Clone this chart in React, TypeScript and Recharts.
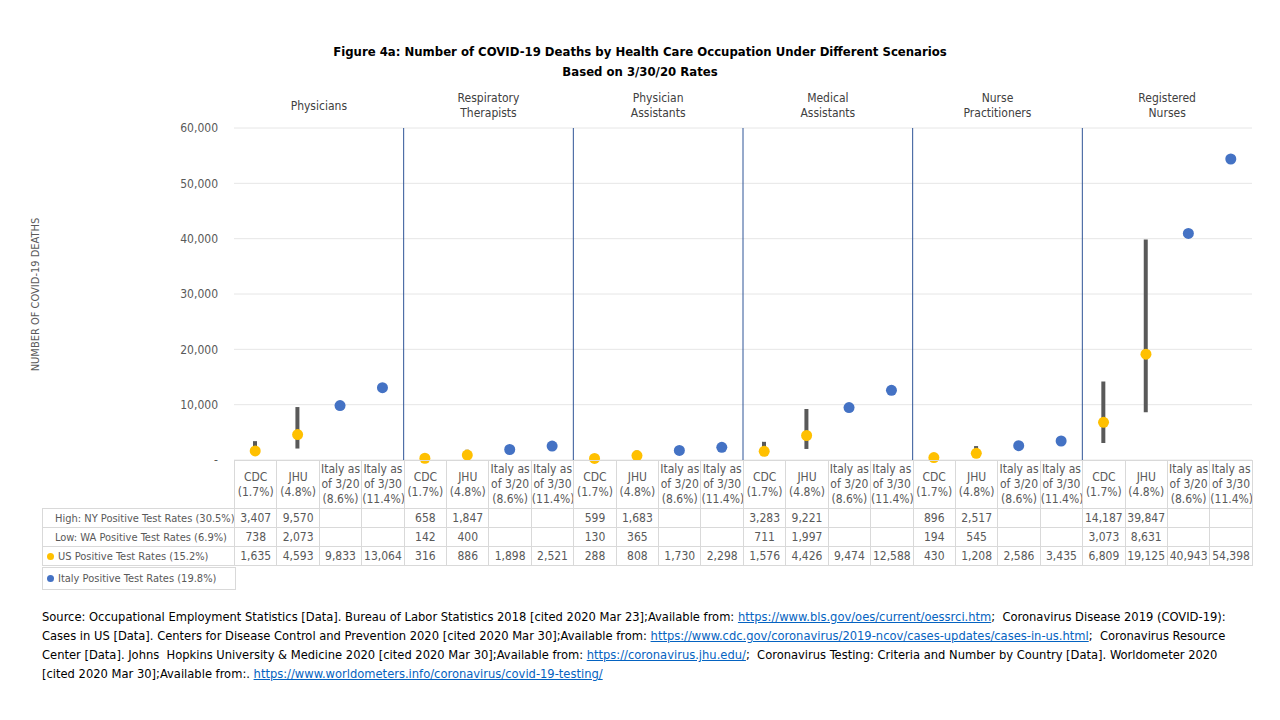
import {
  ComposedChart,
  Bar,
  Line,
  XAxis,
  YAxis,
  CartesianGrid,
  ReferenceLine,
} from "recharts";

// occupations (6 groups of 4 scenarios)
const occupations = [
  ["Physicians"],
  ["Respiratory", "Therapists"],
  ["Physician", "Assistants"],
  ["Medical", "Assistants"],
  ["Nurse", "Practitioners"],
  ["Registered", "Nurses"],
];

const scenarios = [
  ["CDC", "(1.7%)"],
  ["JHU", "(4.8%)"],
  ["Italy as", "of 3/20", "(8.6%)"],
  ["Italy as", "of 3/30", "(11.4%)"],
];
const italyScenario = [false, false, true, true];

// high: NY positive test rates (30.5%)
const highNY = [
  3407, 9570, null, null,
  658, 1847, null, null,
  599, 1683, null, null,
  3283, 9221, null, null,
  896, 2517, null, null,
  14187, 39847, null, null,
];

// low: WA positive test rates (6.9%)
const lowWA = [
  738, 2073, null, null,
  142, 400, null, null,
  130, 365, null, null,
  711, 1997, null, null,
  194, 545, null, null,
  3073, 8631, null, null,
];

// US positive test rates (15.2%) / Italy columns
const deaths = [
  1635, 4593, 9833, 13064,
  316, 886, 1898, 2521,
  288, 808, 1730, 2298,
  1576, 4426, 9474, 12588,
  430, 1208, 2586, 3435,
  6809, 19125, 40943, 54398,
];

const yTicks = [0, 10000, 20000, 30000, 40000, 50000, 60000];

const YELLOW = "#FFC000";
const BLUE = "#4472C4";
const GRAY = "#595959";
const LINE = "#d9d9d9";
const FONT = '"DejaVu Sans Condensed", "Liberation Sans", sans-serif';

const PLOT_LEFT = 234;
const PLOT_RIGHT = 1252;
const COL_W = (PLOT_RIGHT - PLOT_LEFT) / 24;

const data = deaths.map((v, i) => {
  const italy = italyScenario[i % 4];
  return {
    name: `c${i}`,
    us: italy ? null : v,
    italy: italy ? v : null,
    range: highNY[i] != null ? [lowWA[i], highNY[i]] : null,
  };
});

const fmt = (v: number | null) => (v == null ? "" : v.toLocaleString("en-US"));

const cell: React.CSSProperties = {
  border: `1px solid ${LINE}`,
  textAlign: "center",
  padding: 0,
  color: GRAY,
  fontSize: 12,
  whiteSpace: "nowrap",
  overflow: "hidden",
};

const rowLabel: React.CSSProperties = {
  ...cell,
  textAlign: "left",
  paddingLeft: 12,
  fontSize: 11,
};

const link = { color: "#0563C1", textDecoration: "underline" };

export default function App() {
  return (
    <div
      style={{
        position: "absolute",
        left: 0,
        top: 0,
        width: 1280,
        height: 720,
        background: "#fff",
        fontFamily: FONT,
        overflow: "hidden",
      }}
    >
      <div
        style={{
          position: "absolute",
          left: 0,
          width: 1280,
          top: 42,
          textAlign: "center",
          fontWeight: "bold",
          fontSize: 13,
          lineHeight: "20px",
          color: "#000",
        }}
      >
        Figure 4a: Number of COVID-19 Deaths by Health Care Occupation Under Different Scenarios
        <br />
        Based on 3/30/20 Rates
      </div>

      {occupations.map((lines, g) => (
        <div
          key={g}
          style={{
            position: "absolute",
            left: PLOT_LEFT + g * 4 * COL_W,
            width: 4 * COL_W,
            top: 106 - (lines.length * 15) / 2,
            textAlign: "center",
            fontSize: 12,
            lineHeight: "15px",
            color: "#404040",
          }}
        >
          {lines.map((l) => (
            <div key={l}>{l}</div>
          ))}
        </div>
      ))}

      <div
        style={{
          position: "absolute",
          left: 35 - 100,
          top: 288,
          width: 200,
          textAlign: "center",
          transform: "rotate(-90deg)",
          fontSize: 11,
          color: GRAY,
        }}
      >
        NUMBER OF COVID-19 DEATHS
      </div>

      <div style={{ position: "absolute", left: 0, top: 0 }}>
        <ComposedChart
          width={1280}
          height={470}
          data={data}
          margin={{ top: 128, right: 1280 - PLOT_RIGHT, bottom: 10, left: PLOT_LEFT - 60 }}
        >
          <CartesianGrid horizontal vertical={false} stroke="#e6e6e6" />
          <XAxis dataKey="name" hide />
          <YAxis
            width={60}
            domain={[0, 60000]}
            ticks={yTicks}
            axisLine={false}
            tickLine={false}
            tickSize={0}
            tickMargin={16}
            tick={{ fill: GRAY, fontSize: 12, fontFamily: FONT }}
            tickFormatter={(v: number) => (v === 0 ? "-" : v.toLocaleString("en-US"))}
          />
          {[4, 8, 12, 16, 20].map((i) => (
            <ReferenceLine
              key={i}
              x={`c${i}`}
              position="start"
              stroke="#2F5597"
              strokeWidth={1}
            />
          ))}
          <Bar dataKey="range" barSize={4} fill={GRAY} isAnimationActive={false} />
          <Line
            dataKey="us"
            stroke="none"
            dot={{ r: 5.5, fill: YELLOW, stroke: YELLOW, strokeWidth: 0 }}
            activeDot={false}
            isAnimationActive={false}
          />
          <Line
            dataKey="italy"
            stroke="none"
            dot={{ r: 5.5, fill: BLUE, stroke: BLUE, strokeWidth: 0 }}
            activeDot={false}
            isAnimationActive={false}
          />
        </ComposedChart>
      </div>

      <table
        style={{
          position: "absolute",
          left: 42,
          top: 460,
          borderCollapse: "collapse",
          tableLayout: "fixed",
          width: PLOT_RIGHT - 42,
          fontFamily: FONT,
        }}
      >
        <colgroup>
          <col style={{ width: PLOT_LEFT - 42 }} />
          {deaths.map((_, i) => (
            <col key={i} style={{ width: COL_W }} />
          ))}
        </colgroup>
        <tbody>
          <tr style={{ height: 48 }}>
            <td style={{ padding: 0, border: "none" }} />
            {deaths.map((_, i) => (
              <td key={i} style={{ ...cell, lineHeight: "15px" }}>
                {scenarios[i % 4].map((l) => (
                  <div key={l}>{l}</div>
                ))}
              </td>
            ))}
          </tr>
          <tr style={{ height: 19 }}>
            <td style={rowLabel}>High: NY Positive Test Rates (30.5%)</td>
            {highNY.map((v, i) => (
              <td key={i} style={cell}>{fmt(v)}</td>
            ))}
          </tr>
          <tr style={{ height: 19 }}>
            <td style={rowLabel}>Low: WA Positive Test Rates (6.9%)</td>
            {lowWA.map((v, i) => (
              <td key={i} style={cell}>{fmt(v)}</td>
            ))}
          </tr>
          <tr style={{ height: 19 }}>
            <td style={{ ...rowLabel, paddingLeft: 4 }}>
              <span
                style={{
                  display: "inline-block",
                  width: 7,
                  height: 7,
                  borderRadius: "50%",
                  background: YELLOW,
                  marginRight: 4,
                }}
              />
              US Positive Test Rates (15.2%)
            </td>
            {deaths.map((v, i) => (
              <td key={i} style={cell}>{fmt(v)}</td>
            ))}
          </tr>
        </tbody>
      </table>

      <div
        style={{
          position: "absolute",
          left: 42,
          top: 567,
          width: 194,
          height: 23,
          border: `1px solid ${LINE}`,
          fontSize: 11,
          lineHeight: "22px",
          color: GRAY,
          paddingLeft: 4,
          boxSizing: "border-box",
          whiteSpace: "nowrap",
        }}
      >
        <span
          style={{
            display: "inline-block",
            width: 7,
            height: 7,
            borderRadius: "50%",
            background: BLUE,
            marginRight: 4,
          }}
        />
        Italy Positive Test Rates (19.8%)
      </div>

      <div
        style={{
          position: "absolute",
          left: 42,
          top: 607,
          fontSize: 12.8,
          lineHeight: "19px",
          color: "#000",
          whiteSpace: "nowrap",
        }}
      >
        <div>
          Source: Occupational Employment Statistics [Data]. Bureau of Labor Statistics 2018 [cited 2020 Mar 23];Available from:{" "}
          <span style={link}>https://www.bls.gov/oes/current/oessrci.htm</span>;&nbsp; Coronavirus Disease 2019 (COVID-19):
        </div>
        <div>
          Cases in US [Data]. Centers for Disease Control and Prevention 2020 [cited 2020 Mar 30];Available from:{" "}
          <span style={link}>https://www.cdc.gov/coronavirus/2019-ncov/cases-updates/cases-in-us.html</span>;&nbsp; Coronavirus Resource
        </div>
        <div>
          Center [Data]. Johns&nbsp; Hopkins University &amp; Medicine 2020 [cited 2020 Mar 30];Available from:{" "}
          <span style={link}>https://coronavirus.jhu.edu/</span>;&nbsp; Coronavirus Testing: Criteria and Number by Country [Data]. Worldometer 2020
        </div>
        <div>
          [cited 2020 Mar 30];Available from:.{" "}
          <span style={link}>https://www.worldometers.info/coronavirus/covid-19-testing/</span>
        </div>
      </div>
    </div>
  );
}
